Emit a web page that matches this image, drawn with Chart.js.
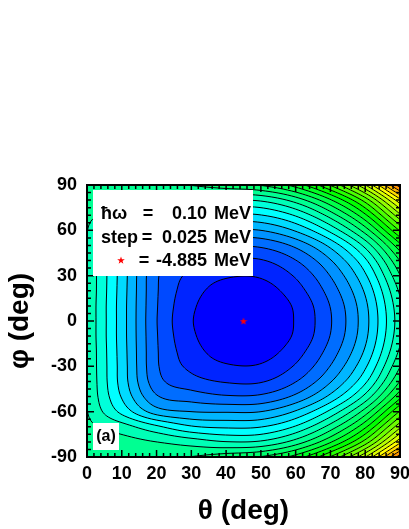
<!DOCTYPE html>
<html>
<head>
<meta charset="utf-8">
<script src="https://cdn.jsdelivr.net/npm/chart.js@4.4.1/dist/chart.umd.min.js"></script>
<style>
  html, body { margin: 0; padding: 0; background: #fff; }
  #c { display: block; }
</style>
</head>
<body>
<canvas id="c" width="409" height="529"></canvas>
<script>
// grid of the energy surface
const thetaGrid = [0, 10, 20, 30, 40, 50, 60, 70, 80, 90];
const phiGrid = [-90, -80, -70, -60, -50, -40, -30, -20, -10, 0, 10, 20, 30, 40, 50, 60, 70, 80, 90];
// E (MeV), one row per phi value (from -90 up to 90), one column per theta value
const energyGrid = [
  [-4.619, -4.620, -4.616, -4.609, -4.595, -4.583, -4.549, -4.483, -4.386, -4.245],
  [-4.624, -4.626, -4.635, -4.647, -4.659, -4.656, -4.624, -4.563, -4.474, -4.342],
  [-4.629, -4.649, -4.680, -4.707, -4.714, -4.711, -4.682, -4.624, -4.540, -4.416],
  [-4.634, -4.692, -4.747, -4.760, -4.762, -4.760, -4.732, -4.678, -4.598, -4.482],
  [-4.636, -4.712, -4.782, -4.797, -4.807, -4.805, -4.779, -4.728, -4.652, -4.542],
  [-4.636, -4.720, -4.800, -4.825, -4.837, -4.837, -4.811, -4.762, -4.690, -4.584],
  [-4.637, -4.721, -4.806, -4.841, -4.857, -4.857, -4.832, -4.784, -4.714, -4.611],
  [-4.637, -4.722, -4.807, -4.849, -4.871, -4.871, -4.846, -4.799, -4.731, -4.630],
  [-4.638, -4.723, -4.808, -4.855, -4.879, -4.879, -4.856, -4.809, -4.741, -4.641],
  [-4.638, -4.723, -4.809, -4.858, -4.882, -4.882, -4.858, -4.812, -4.744, -4.645],
  [-4.638, -4.723, -4.808, -4.855, -4.879, -4.879, -4.856, -4.809, -4.741, -4.641],
  [-4.637, -4.722, -4.807, -4.849, -4.871, -4.871, -4.846, -4.799, -4.731, -4.630],
  [-4.637, -4.721, -4.806, -4.841, -4.857, -4.857, -4.832, -4.784, -4.714, -4.611],
  [-4.636, -4.720, -4.800, -4.825, -4.837, -4.837, -4.811, -4.762, -4.690, -4.584],
  [-4.636, -4.712, -4.782, -4.797, -4.807, -4.805, -4.779, -4.728, -4.652, -4.542],
  [-4.634, -4.692, -4.747, -4.760, -4.762, -4.760, -4.732, -4.678, -4.598, -4.482],
  [-4.629, -4.649, -4.680, -4.707, -4.714, -4.711, -4.682, -4.624, -4.540, -4.416],
  [-4.624, -4.626, -4.635, -4.647, -4.659, -4.656, -4.624, -4.563, -4.474, -4.342],
  [-4.619, -4.620, -4.616, -4.609, -4.595, -4.583, -4.549, -4.483, -4.386, -4.245]
];
const minimumPoint = [45, 0];
const minimumEnergy = -4.885;
const levelStep = 0.025;

const xTicks = [0, 10, 20, 30, 40, 50, 60, 70, 80, 90];
const yTicks = [-90, -60, -30, 0, 30, 60, 90];
const legendLabels = ["ħω", "step", ""];
const legendNumbers = ["0.10", "0.025", "-4.885"];
const legendUnit = "MeV";

// colour of band n (0 = deepest), blue -> cyan -> green -> yellow -> red
const bandStops = [[0, 0, 255], [0, 255, 255], [0, 255, 0], [255, 255, 0], [255, 0, 0]];
const bandsPerStop = 7;
function bandColor(n) {
  const t = Math.max(0, n) / bandsPerStop;
  const s = Math.min(Math.floor(t), bandStops.length - 2);
  const f = Math.min(t - s, 1);
  const a = bandStops[s], b = bandStops[s + 1];
  return [0, 1, 2].map(k => Math.round(a[k] + (b[k] - a[k]) * f));
}

function gridAt(i, j) {
  const nx = thetaGrid.length, ny = phiGrid.length;
  if (i < 0) return 2 * gridAt(0, j) - gridAt(1, j);
  if (i > nx - 1) return 2 * gridAt(nx - 1, j) - gridAt(nx - 2, j);
  if (j < 0) return 2 * gridAt(i, 0) - gridAt(i, 1);
  if (j > ny - 1) return 2 * gridAt(i, ny - 1) - gridAt(i, ny - 2);
  return energyGrid[j][i];
}
function cr(p0, p1, p2, p3, t) {
  return p1 + 0.5 * t * (p2 - p0 + t * (2 * p0 - 5 * p1 + 4 * p2 - p3 + t * (3 * (p1 - p2) + p3 - p0)));
}
function surface(th, ph) {
  const fx = (th - thetaGrid[0]) / (thetaGrid[1] - thetaGrid[0]);
  const fy = (ph - phiGrid[0]) / (phiGrid[1] - phiGrid[0]);
  const i = Math.max(0, Math.min(Math.floor(fx), thetaGrid.length - 2));
  const j = Math.max(0, Math.min(Math.floor(fy), phiGrid.length - 2));
  const tx = fx - i, ty = fy - j;
  const col = [];
  for (let m = -1; m <= 2; m++) {
    col.push(cr(gridAt(i - 1, j + m), gridAt(i, j + m), gridAt(i + 1, j + m), gridAt(i + 2, j + m), tx));
  }
  return cr(col[0], col[1], col[2], col[3], ty);
}

function makeStar(size) {
  const c = document.createElement('canvas');
  c.width = c.height = size;
  const g = c.getContext('2d');
  g.fillStyle = '#ff0000';
  g.beginPath();
  for (let k = 0; k < 10; k++) {
    const r = k % 2 ? size * 0.2 : size * 0.5;
    const a = -Math.PI / 2 + k * Math.PI / 5;
    g.lineTo(size / 2 + r * Math.cos(a), size / 2 + 0.5 + r * Math.sin(a));
  }
  g.closePath();
  g.fill();
  return c;
}
const starImg = makeStar(8);

const surfacePlugin = {
  id: 'surface',
  beforeDatasetsDraw(chart) {
    const { ctx, chartArea: a, scales: { x, y } } = chart;
    const x0 = Math.round(a.left), y0 = Math.round(a.top);
    const w = Math.round(a.right) - x0, h = Math.round(a.bottom) - y0;
    const W = w + 1;
    const lv = new Float32Array(W * (h + 1));
    for (let j = 0; j <= h; j++) {
      const ph = y.getValueForPixel(y0 + j);
      for (let i = 0; i <= w; i++) {
        lv[j * W + i] = (surface(x.getValueForPixel(x0 + i), ph) - minimumEnergy) / levelStep;
      }
    }
    // filled bands
    const off = document.createElement('canvas');
    off.width = w; off.height = h;
    const g = off.getContext('2d');
    const img = g.createImageData(w, h);
    for (let j = 0; j < h; j++) {
      for (let i = 0; i < w; i++) {
        const v = (lv[j * W + i] + lv[j * W + i + 1] + lv[(j + 1) * W + i] + lv[(j + 1) * W + i + 1]) / 4;
        const c = bandColor(Math.floor(v));
        const p = (j * w + i) * 4;
        img.data[p] = c[0]; img.data[p + 1] = c[1]; img.data[p + 2] = c[2]; img.data[p + 3] = 255;
      }
    }
    g.putImageData(img, 0, 0);
    ctx.drawImage(off, x0, y0);

    // contour lines (marching squares)
    ctx.save();
    ctx.beginPath();
    ctx.rect(x0, y0, w, h);
    ctx.clip();
    ctx.beginPath();
    for (let j = 0; j < h; j++) {
      for (let i = 0; i < w; i++) {
        const v0 = lv[j * W + i], v1 = lv[j * W + i + 1], v2 = lv[(j + 1) * W + i + 1], v3 = lv[(j + 1) * W + i];
        const lo = Math.min(v0, v1, v2, v3), hi = Math.max(v0, v1, v2, v3);
        for (let k = Math.max(1, Math.ceil(lo)); k <= hi; k++) {
          const pts = [];
          if ((v0 < k) !== (v1 < k)) pts.push([i + (k - v0) / (v1 - v0), j]);
          if ((v1 < k) !== (v2 < k)) pts.push([i + 1, j + (k - v1) / (v2 - v1)]);
          if ((v3 < k) !== (v2 < k)) pts.push([i + (k - v3) / (v2 - v3), j + 1]);
          if ((v0 < k) !== (v3 < k)) pts.push([i, j + (k - v0) / (v3 - v0)]);
          for (let q = 0; q + 1 < pts.length; q += 2) {
            ctx.moveTo(x0 + pts[q][0], y0 + pts[q][1]);
            ctx.lineTo(x0 + pts[q + 1][0], y0 + pts[q + 1][1]);
          }
        }
      }
    }
    ctx.strokeStyle = '#000';
    ctx.lineWidth = 1;
    ctx.stroke();
    ctx.restore();
  },
  afterDraw(chart) {
    const { ctx, chartArea: a, scales: { x, y } } = chart;
    ctx.save();
    // inside ticks on all four sides
    ctx.strokeStyle = '#000';
    ctx.lineWidth = 1.5;
    ctx.beginPath();
    for (let v = 0; v <= 90; v += 2) {
      const px = x.getPixelForValue(v);
      const len = v % 10 === 0 ? 7 : 4;
      ctx.moveTo(px, a.bottom); ctx.lineTo(px, a.bottom - len);
      ctx.moveTo(px, a.top); ctx.lineTo(px, a.top + len);
    }
    for (let v = -90; v <= 90; v += 5) {
      const py = y.getPixelForValue(v);
      const len = v % 30 === 0 ? 7 : 4;
      ctx.moveTo(a.left, py); ctx.lineTo(a.left + len, py);
      ctx.moveTo(a.right, py); ctx.lineTo(a.right - len, py);
    }
    ctx.stroke();
    ctx.lineWidth = 2;
    ctx.strokeRect(a.left, a.top, a.right - a.left, a.bottom - a.top);

    // info box
    ctx.fillStyle = '#fff';
    ctx.fillRect(93, 190, 160, 86);
    ctx.fillStyle = '#000';
    ctx.font = 'bold 18px "Liberation Sans", Arial, sans-serif';
    ctx.textBaseline = 'middle';
    const rowY = [214, 238, 261];
    const eqX = [148, 147, 144];
    legendNumbers.forEach((num, k) => {
      ctx.textAlign = 'left';
      ctx.fillText(legendLabels[k], 101, rowY[k]);
      ctx.textAlign = 'center';
      ctx.fillText('=', eqX[k], rowY[k]);
      ctx.textAlign = 'right';
      ctx.fillText(num, 207, rowY[k]);
      ctx.fillText(legendUnit, 251, rowY[k]);
    });
    ctx.drawImage(starImg, 117, rowY[2] - 5);

    // panel label
    ctx.fillStyle = '#fff';
    ctx.fillRect(93, 423, 26, 27);
    ctx.fillStyle = '#000';
    ctx.font = 'bold 16px "Liberation Sans", Arial, sans-serif';
    ctx.textAlign = 'center';
    ctx.fillText('(a)', 106, 437);
    ctx.restore();
  }
};

const tickFont = { family: '"Liberation Sans", Arial, sans-serif', weight: 'bold', size: 18 };
const titleFont = { family: '"Liberation Sans", Arial, sans-serif', weight: 'bold', size: 28 };

new Chart(document.getElementById('c'), {
  type: 'scatter',
  data: {
    datasets: [{
      data: [{ x: minimumPoint[0], y: minimumPoint[1] }],
      pointStyle: starImg,
      pointRadius: 4
    }]
  },
  options: {
    responsive: false,
    animation: false,
    devicePixelRatio: 1,
    layout: { padding: { top: 185, right: 9, left: 0, bottom: 0 } },
    plugins: { legend: { display: false }, tooltip: { enabled: false } },
    scales: {
      x: {
        type: 'linear', min: 0, max: 90,
        afterBuildTicks: s => { s.ticks = xTicks.map(v => ({ value: v })); },
        ticks: { font: tickFont, color: '#000', padding: 6, maxRotation: 0, autoSkip: false },
        grid: { display: false, drawTicks: false },
        border: { display: false },
        title: { display: true, text: 'θ (deg)', font: titleFont, color: '#000', padding: { top: 0, bottom: 1 } },
        afterFit: s => { s.height = 72; s.paddingLeft = 0; s.paddingRight = 0; }
      },
      y: {
        type: 'linear', min: -90, max: 90,
        afterBuildTicks: s => { s.ticks = yTicks.map(v => ({ value: v })); },
        ticks: { font: tickFont, color: '#000', padding: 10, autoSkip: false },
        grid: { display: false, drawTicks: false },
        border: { display: false },
        title: { display: true, text: 'φ (deg)', font: titleFont, color: '#000', padding: { top: 3, bottom: 0 } },
        afterFit: s => { s.width = 87; s.paddingTop = 0; s.paddingBottom = 0; }
      }
    }
  },
  plugins: [surfacePlugin]
});
</script>
</body>
</html>
